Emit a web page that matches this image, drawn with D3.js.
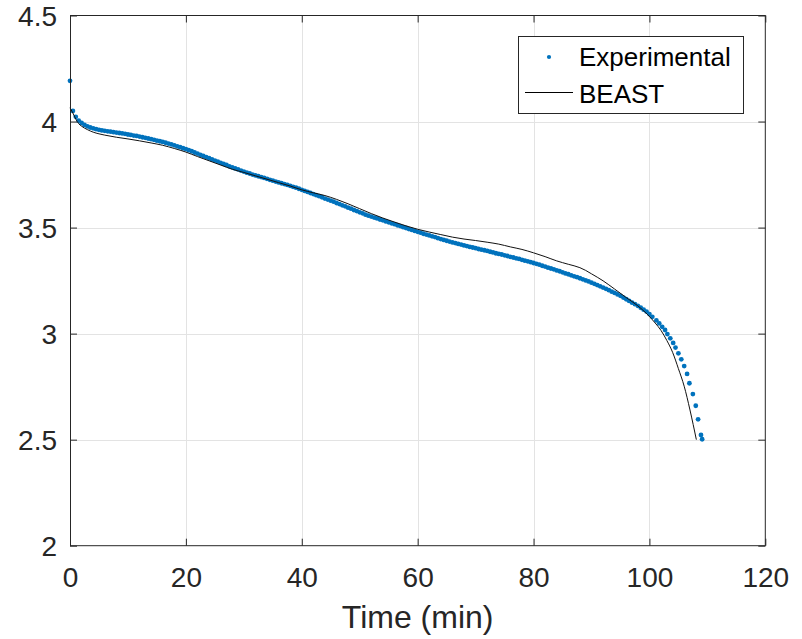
<!DOCTYPE html>
<html><head><meta charset="utf-8">
<script src="https://cdn.jsdelivr.net/npm/d3@7"></script>
<style>body{margin:0;background:#fff} svg{display:block} text{font-family:"Liberation Sans",Arial,Helvetica,sans-serif;}</style>
</head><body><svg id="c" width="802" height="639"></svg>
<script>
// ---- data ----
const xTicks = [0, 20, 40, 60, 80, 100, 120];
const xTickLabels = ["0", "20", "40", "60", "80", "100", "120"];
const yTicks = [2, 2.5, 3, 3.5, 4, 4.5];
const yTickLabels = ["2", "2.5", "3", "3.5", "4", "4.5"];
const xLabel = "Time (min)";
const seriesNames = ["Experimental", "BEAST"];

// Experimental voltage, sampled every 0.5 min starting at t = 0
const expStep = 0.5;
const expVoltage = [
  4.192,4.050,4.022,4.004,3.993,3.984,3.977,3.972,3.968,3.964,
  3.961,3.958,3.956,3.954,3.952,3.950,3.948,3.946,3.944,3.942,
  3.939,3.937,3.934,3.932,3.929,3.926,3.923,3.920,3.917,3.914,
  3.910,3.907,3.904,3.900,3.896,3.892,3.888,3.883,3.879,3.874,
  3.870,3.865,3.860,3.854,3.849,3.843,3.838,3.832,3.827,3.821,
  3.816,3.811,3.805,3.800,3.795,3.789,3.784,3.779,3.774,3.769,
  3.764,3.759,3.755,3.750,3.746,3.742,3.738,3.734,3.730,3.725,
  3.721,3.717,3.713,3.709,3.705,3.701,3.697,3.692,3.688,3.683,
  3.678,3.673,3.668,3.663,3.658,3.653,3.648,3.643,3.637,3.632,
  3.627,3.622,3.616,3.611,3.605,3.600,3.594,3.589,3.583,3.578,
  3.572,3.567,3.561,3.556,3.552,3.547,3.543,3.538,3.534,3.529,
  3.525,3.520,3.516,3.511,3.507,3.502,3.498,3.493,3.489,3.484,
  3.480,3.476,3.471,3.467,3.463,3.459,3.455,3.450,3.446,3.442,
  3.438,3.434,3.430,3.427,3.423,3.420,3.416,3.413,3.409,3.406,
  3.403,3.399,3.396,3.393,3.390,3.386,3.383,3.379,3.376,3.373,
  3.369,3.366,3.362,3.359,3.355,3.352,3.348,3.344,3.341,3.337,
  3.333,3.329,3.325,3.320,3.316,3.311,3.307,3.303,3.298,3.294,
  3.289,3.284,3.280,3.275,3.270,3.266,3.261,3.256,3.251,3.246,
  3.240,3.235,3.229,3.223,3.217,3.211,3.205,3.198,3.192,3.185,
  3.178,3.170,3.162,3.154,3.146,3.139,3.131,3.122,3.113,3.104,
  3.092,3.079
];
// Experimental tail (sparse dots near cut-off)
const expTailTime = [101.2,101.7,102.2,102.7,103.1,103.6,104.1,104.5,105.0,105.5,106.0,106.5,106.9,107.5,108.0,108.4,108.9,109.1];
const expTailVoltage = [3.062,3.048,3.032,3.017,2.998,2.978,2.956,2.934,2.907,2.879,2.847,2.810,2.766,2.715,2.660,2.596,2.522,2.502];

// BEAST model
const beastTime = [0,0.5,1,1.5,2,3,4,5,6,8,10,12,14,16,18,20,22,24,26,28,30,32,34,36,38,40,42,44,46,48,50,52,54,56,58,60,62,64,66,68,70,72,74,76,78,80,82,84,86,88,89,90,91,92,94,96,98,99.6,101,102,103,104,105,106,107,108.1];
const beastVoltage = [4.065,4.040,4.012,3.990,3.978,3.962,3.950,3.942,3.936,3.926,3.918,3.909,3.899,3.888,3.873,3.856,3.835,3.815,3.795,3.775,3.760,3.744,3.728,3.712,3.696,3.678,3.664,3.651,3.633,3.612,3.589,3.566,3.545,3.526,3.508,3.492,3.479,3.467,3.455,3.446,3.439,3.431,3.422,3.409,3.397,3.381,3.363,3.343,3.327,3.311,3.298,3.282,3.266,3.249,3.210,3.170,3.131,3.092,3.050,3.015,2.968,2.912,2.835,2.752,2.640,2.500];

// ---- chart ----
const svg = d3.select("#c");
svg.append("rect").attr("width",802).attr("height",639).attr("fill","#fff");
const axisColor = "#262626";
const x = d3.scaleLinear().domain([0,120]).range([70,765.3]);
const y = d3.scaleLinear().domain([2,4.5]).range([545.7,15.5]);

// grid
const grid = svg.append("g").attr("stroke","#e3e3e3").attr("stroke-width",1);
grid.selectAll("line.vx").data(xTicks.slice(1,-1)).join("line")
  .attr("x1",d=>Math.round(x(d))+0.5).attr("x2",d=>Math.round(x(d))+0.5)
  .attr("y1",y(4.5)).attr("y2",y(2));
grid.selectAll("line.hy").data(yTicks.slice(1,-1)).join("line")
  .attr("y1",d=>Math.round(y(d))+0.5).attr("y2",d=>Math.round(y(d))+0.5)
  .attr("x1",x(0)).attr("x2",x(120));

// data: experimental dots
const expPts = expVoltage.map((v,i)=>({t:i*expStep, v}))
  .concat(expTailTime.map((t,i)=>({t, v:expTailVoltage[i]})));
svg.append("g").attr("fill","#0072BD")
  .selectAll("circle").data(expPts).join("circle")
  .attr("cx",d=>x(d.t)).attr("cy",d=>y(d.v)).attr("r",2.4);

// BEAST line
const beastPts = beastTime.map((t,i)=>({t, v:beastVoltage[i]}));
svg.append("path").datum(beastPts)
  .attr("fill","none").attr("stroke","#111").attr("stroke-width",1)
  .attr("d", d3.line().x(d=>x(d.t)).y(d=>y(d.v)).curve(d3.curveMonotoneX));

// axes
function styleAxis(g){
  g.attr("color",axisColor).attr("font-family",null).attr("font-size",null);
  g.select(".domain").remove();
  g.selectAll("line").attr("stroke-width",1);
}
const gx = svg.append("g").attr("transform",`translate(0,${y(2)})`)
  .call(d3.axisBottom(x).tickValues(xTicks).tickSize(-7).tickSizeOuter(0).tickFormat((d,i)=>xTickLabels[i]));
styleAxis(gx);
gx.selectAll("text").attr("y",41).attr("dy",null).style("font-size","28px");

const gxt = svg.append("g").attr("transform",`translate(0,${y(4.5)})`)
  .call(d3.axisTop(x).tickValues(xTicks).tickSize(-7).tickSizeOuter(0).tickFormat(""));
styleAxis(gxt);

const gy = svg.append("g").attr("transform",`translate(${x(0)},0)`)
  .call(d3.axisLeft(y).tickValues(yTicks).tickSize(-7).tickSizeOuter(0).tickFormat((d,i)=>yTickLabels[i]));
styleAxis(gy);
gy.selectAll("text").attr("x",-13).attr("dy","0.36em").style("font-size","28px");

const gyr = svg.append("g").attr("transform",`translate(${x(120)},0)`)
  .call(d3.axisRight(y).tickValues(yTicks).tickSize(-7).tickSizeOuter(0).tickFormat(""));
styleAxis(gyr);

// box
svg.append("rect").attr("x",70.5).attr("y",15.5).attr("width",x(120)-70.5).attr("height",y(2)-15.5)
  .attr("fill","none").attr("stroke",axisColor).attr("stroke-width",1);

// x label
svg.append("text").attr("x",(x(0)+x(120))/2).attr("y",628).attr("text-anchor","middle")
  .attr("fill",axisColor).style("font-size","32px").text(xLabel);

// legend
const lg = svg.append("g");
lg.append("rect").attr("x",518.5).attr("y",36.5).attr("width",225).attr("height",77)
  .attr("fill","#fff").attr("stroke",axisColor).attr("stroke-width",1);
lg.append("circle").attr("cx",549).attr("cy",57).attr("r",2.1).attr("fill","#0072BD");
lg.append("line").attr("x1",525).attr("x2",573).attr("y1",92.5).attr("y2",92.5).attr("stroke","#000").attr("stroke-width",1);
lg.selectAll("text").data(seriesNames).join("text")
  .attr("x",579).attr("y",(d,i)=>66+i*37).attr("fill","#000").style("font-size","26px").text(d=>d);
</script></body></html>
